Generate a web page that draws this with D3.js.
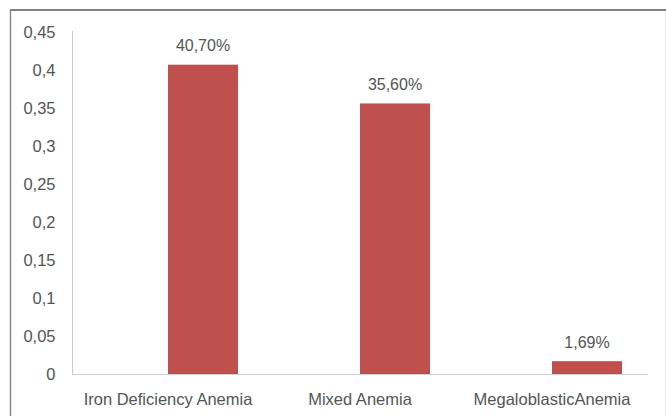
<!DOCTYPE html>
<html>
<head>
<meta charset="utf-8">
<script src="https://cdn.jsdelivr.net/npm/d3@7"></script>
<style>
  html, body { margin: 0; padding: 0; background: #fff; }
  svg { display: block; }
  text { font-family: "Liberation Sans", Arial, sans-serif; fill: #555555; }
</style>
</head>
<body>
<svg id="chart" width="666" height="416"></svg>
<script>
const categories = ["Iron Deficiency Anemia", "Mixed Anemia", "MegaloblasticAnemia"];
const series = ["blank", "Anemia"];
const blankValues = [null, null, null];
const values = [0.407, 0.356, 0.0169];
const valueLabels = ["40,70%", "35,60%", "1,69%"];
const yTicks = [0, 0.05, 0.1, 0.15, 0.2, 0.25, 0.3, 0.35, 0.4, 0.45];
const yTickLabels = ["0", "0,05", "0,1", "0,15", "0,2", "0,25", "0,3", "0,35", "0,4", "0,45"];

const svg = d3.select("#chart");

// outer frame
svg.append("line").attr("x1", 10.5).attr("x2", 666).attr("y1", 10).attr("y2", 10)
  .attr("stroke", "#808080").attr("stroke-width", 2);
svg.append("line").attr("x1", 10.5).attr("x2", 10.5).attr("y1", 9).attr("y2", 416)
  .attr("stroke", "#8a8a8a").attr("stroke-width", 1.5);
svg.append("line").attr("x1", 665.5).attr("x2", 665.5).attr("y1", 11).attr("y2", 416)
  .attr("stroke", "#ececec").attr("stroke-width", 1);

const x0 = d3.scaleBand().domain(categories).range([72, 648]).paddingInner(0).paddingOuter(0);
const x1 = d3.scaleBand().domain(series).range([0, x0.bandwidth()]).paddingInner(0).paddingOuter(0.371);
const y = d3.scaleLinear().domain([0, 0.45]).range([374, 32]);

// y axis
const yAxis = d3.axisLeft(y).tickValues(yTicks).tickFormat((d, i) => yTickLabels[i]).tickSize(0).tickPadding(17);
const gy = svg.append("g").attr("transform", "translate(72.5,0)").call(yAxis);
gy.select(".domain").attr("stroke", "#c8c8c8").attr("d", `M0,${y(0.45) - 1}V${y(0) + 0.5}`);
gy.selectAll("text").attr("font-size", 16.5).attr("fill", "#555555").attr("font-family", "Liberation Sans, Arial, sans-serif");

// x axis
const xAxis = d3.axisBottom(x0).tickSize(0).tickPadding(19);
const gx = svg.append("g").attr("transform", "translate(0,374.5)").call(xAxis);
gx.select(".domain").attr("stroke", "#d0d0d0").attr("d", `M72,0H648`);
gx.selectAll("text").attr("font-size", 16.5).attr("fill", "#555555").attr("font-family", "Liberation Sans, Arial, sans-serif");

// bars
const bars = svg.append("g");
categories.forEach((c, i) => {
  const bx = x0(c) + x1("Anemia");
  bars.append("rect")
    .attr("x", bx)
    .attr("y", y(values[i]))
    .attr("width", x1.bandwidth())
    .attr("height", y(0) - y(values[i]))
    .attr("fill", "#c0504d");
  bars.append("text")
    .attr("x", bx + x1.bandwidth() / 2)
    .attr("y", y(values[i]) - 13.5)
    .attr("text-anchor", "middle")
    .attr("font-size", 16)
    .text(valueLabels[i]);
});
</script>
</body>
</html>
